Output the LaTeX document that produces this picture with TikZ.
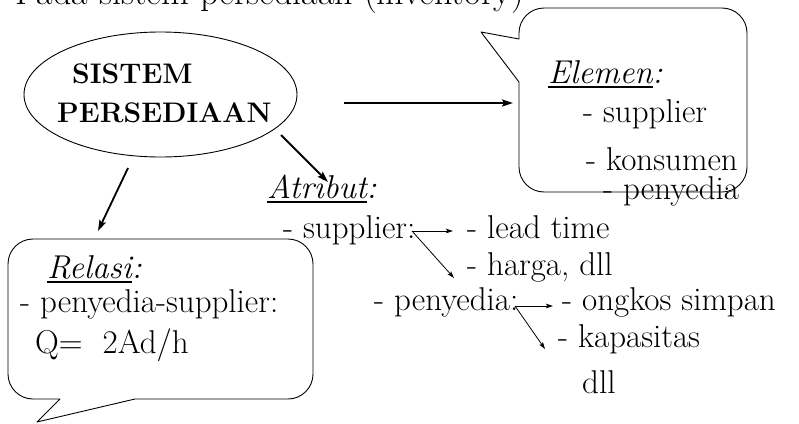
\documentclass[tikz,border=0pt]{standalone}
\usetikzlibrary{arrows.meta,shapes.geometric}

% thick underline sitting a few points below the baseline
\newcommand\thickul[1]{\setbox0\hbox{#1}\rlap{\rule[-5pt]{\wd0}{1.6pt}}\box0}

\begin{document}
\begin{tikzpicture}[x=1pt,y=-1pt,
  txt/.style={anchor=base west, inner sep=0pt, font=\fontsize{33}{38}\selectfont},
  boldtxt/.style={txt, font=\fontsize{28.3}{33}\selectfont\bfseries},
  area/.style={rectangle, inner sep=0pt},
  outline/.style={draw, line width=0.9pt, line join=round},
  bigarrow/.style={line width=1.8pt, -{Stealth[length=11pt,width=7pt,inset=2pt]}},
  smallarrow/.style={line width=0.8pt, -{Stealth[length=7pt,width=4.5pt,inset=1.5pt]}},
]
\useasboundingbox (0,0) rectangle (799,423);

% heading, partly above the top edge
\node[txt, font=\fontsize{36}{40}\selectfont] (title) at (15,5) {Pada sistem persediaan (inventory)};

% central ellipse
\node[draw, ellipse, line width=0.9pt, minimum width=273pt, minimum height=125pt, inner sep=0pt] (sys) at (160.5,94.5) {};
\node[boldtxt] (sysa) at (72,83) {SISTEM};
\node[boldtxt] (sysb) at (57,122) {PERSEDIAAN};

% speech bubble: Elemen
\node[area, minimum width=228pt, minimum height=184pt] (elem) at (633,100) {};
\draw[outline] (519,39) -- (519,33) .. controls (519,19.2) and (530.2,8) .. (544,8)
  -- (722,8) .. controls (735.8,8) and (747,19.2) .. (747,33)
  -- (747,167) .. controls (747,180.8) and (735.8,192) .. (722,192)
  -- (544,192) .. controls (530.2,192) and (519,180.8) .. (519,167)
  -- (519,82) -- (481,32) -- cycle;
\node[txt] (elemhead) at (548,83) {\thickul{\itshape Elemen}\textit{:}};
\node[txt] (elem1) at (583,122) {- supplier};
\node[txt] (elem2) at (586,170) {- konsumen};
\node[txt] (elem3) at (603,199) {- penyedia};

% speech bubble: Relasi
\node[area, minimum width=305pt, minimum height=160pt] (rel) at (160.5,319) {};
\draw[outline] (60,399) -- (33,399) .. controls (19.2,399) and (8,387.8) .. (8,374)
  -- (8,264) .. controls (8,250.2) and (19.2,239) .. (33,239)
  -- (288,239) .. controls (301.8,239) and (313,250.2) .. (313,264)
  -- (313,374) .. controls (313,387.8) and (301.8,399) .. (288,399)
  -- (135,399) -- (37,422) -- cycle;
\node[txt] (relhead) at (47,278) {\thickul{\itshape Relasi}\textit{:}};
\node[txt] (rel1) at (20,312) {- penyedia-supplier:};
\node[txt] (rel2) at (35,353) {Q=\ \ 2Ad/h};

% attributes
\node[txt] (atr) at (267,198) {\thickul{\itshape Atribut}\textit{:}};
\node[txt] (sup) at (283,238) {- supplier:};
\node[txt] (lead) at (467,238) {- lead time};
\node[txt] (harga) at (467,275) {- harga, dll};
\node[txt] (pen) at (374,310) {- penyedia:};
\node[txt] (ongkos) at (562,310) {- ongkos simpan};
\node[txt] (kap) at (558,347) {- kapasitas};
\node[txt] (dll) at (582,393) {dll};

% main connectors out of the ellipse
\coordinate (s1) at (344,103);
\coordinate (e1) at (513,103);
\draw[bigarrow] (s1) -- (e1);
\coordinate (s2) at (281,135);
\coordinate (e2) at (328,182);
\draw[bigarrow] (s2) -- (e2);
\coordinate (s3) at (128,168);
\coordinate (e3) at (98,231);
\draw[bigarrow] (s3) -- (e3);

% attribute branches
\coordinate (sa) at (412,231);
\coordinate (ta) at (453,231);
\coordinate (tb) at (454,278);
\draw[smallarrow] (sa) -- (ta);
\draw[smallarrow] (sa) -- (tb);
\coordinate (pa) at (515,306);
\coordinate (pb) at (553,306);
\coordinate (pc) at (545,349);
\draw[smallarrow] (pa) -- (pb);
\draw[smallarrow] (pa) -- (pc);
\end{tikzpicture}
\end{document}
